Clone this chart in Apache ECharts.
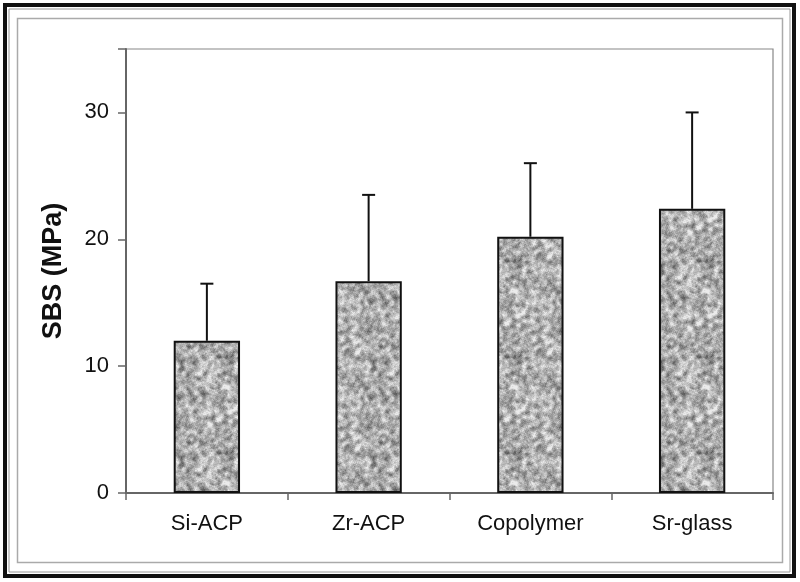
<!DOCTYPE html>
<html><head><meta charset="utf-8">
<script src="https://cdn.jsdelivr.net/npm/echarts@6/dist/echarts.min.js"></script>
<style>html,body{margin:0;padding:0;background:#fff}#c{width:800px;height:582px}</style>
</head><body><div id="c"></div>
<script>
const categories = ['Si-ACP', 'Zr-ACP', 'Copolymer', 'Sr-glass'];
const means = [12.0, 16.7, 20.2, 22.4];
const errUpper = [16.5, 23.5, 26.0, 30.0];
const yTicks = [0, 10, 20, 30];

// deterministic speckle texture
function makeTexture() {
  const s = 96, cv = document.createElement('canvas');
  cv.width = s; cv.height = s;
  const ctx = cv.getContext('2d');
  const img = ctx.createImageData(s, s);
  let seed = 12345;
  function rnd() { seed = (seed * 1103515245 + 12345) & 0x7fffffff; return seed / 0x7fffffff; }
  const base = [];
  for (let i = 0; i < s * s; i++) base.push(rnd());
  for (let y = 0; y < s; y++) for (let x = 0; x < s; x++) {
    let v = 0, n = 0;
    for (let dy = -2; dy <= 2; dy++) for (let dx = -2; dx <= 2; dx++) {
      if (dx * dx + dy * dy > 5) continue;
      v += base[((y + dy + s) % s) * s + ((x + dx + s) % s)]; n++;
    }
    v /= n;
    const g = Math.max(70, Math.min(235, 175 + (v - 0.5) * 420));
    const k = (y * s + x) * 4;
    img.data[k] = img.data[k + 1] = img.data[k + 2] = g; img.data[k + 3] = 255;
  }
  ctx.putImageData(img, 0, 0);
  return cv;
}
const tex = makeTexture();

const chart = echarts.init(document.getElementById('c'));
chart.setOption({
  animation: false,
  grid: { left: 126, right: 27, top: 49, bottom: 89, show: true, borderColor: '#888', borderWidth: 1.2 },
  xAxis: {
    type: 'category', data: categories,
    axisLine: { lineStyle: { color: '#666', width: 2 } },
    axisTick: { show: true, alignWithLabel: false, length: 7, lineStyle: { color: '#666', width: 1.5 } },
    axisLabel: { color: '#111', fontSize: 22, fontFamily: 'Liberation Sans', margin: 20 },
    splitLine: { show: false }
  },
  yAxis: {
    type: 'value', min: 0, max: 35, interval: 10,
    name: 'SBS (MPa)', nameLocation: 'middle', nameGap: 59,
    nameTextStyle: { color: '#111', fontSize: 27, fontWeight: 'bold', fontFamily: 'Liberation Sans' },
    axisLine: { show: true, lineStyle: { color: '#666', width: 2 } },
    axisTick: { show: true, inside: false, length: 8, lineStyle: { color: '#666', width: 1.5 } },
    axisLabel: { color: '#111', fontSize: 22, fontFamily: 'Liberation Sans', margin: 17,
      formatter: v => yTicks.includes(v) ? String(v) : '' },
    splitLine: { show: false }
  },
  series: [
    {
      type: 'custom',
      z: 1,
      renderItem: function (params, api) {
        const i = api.value(0);
        const base = api.coord([i, api.value(1)]);
        const top = api.coord([i, api.value(2)]);
        const hw = 6.5;
        return {
          type: 'group',
          children: [
            { type: 'line', shape: { x1: base[0], y1: base[1], x2: top[0], y2: top[1] }, style: { stroke: '#111', lineWidth: 2 } },
            { type: 'line', shape: { x1: top[0] - hw, y1: top[1], x2: top[0] + hw, y2: top[1] }, style: { stroke: '#111', lineWidth: 2 } }
          ]
        };
      },
      data: categories.map((c, i) => [i, means[i], errUpper[i]])
    },
    {
      type: 'bar', data: means, barWidth: '41%', z: 2,
      itemStyle: { color: { image: tex, repeat: 'repeat' }, borderColor: '#111', borderWidth: 2 }
    }
  ],
  graphic: [
    { type: 'rect', shape: { x: 5, y: 5, width: 789, height: 571 }, style: { fill: 'none', stroke: '#111', lineWidth: 4 }, silent: true },
    { type: 'rect', shape: { x: 9, y: 9, width: 781, height: 563 }, style: { fill: 'none', stroke: '#999', lineWidth: 1 }, silent: true },
    { type: 'rect', shape: { x: 17.5, y: 18.5, width: 765, height: 544 }, style: { fill: 'none', stroke: '#aaa', lineWidth: 1.5 }, silent: true }
  ]
});
</script></body></html>
